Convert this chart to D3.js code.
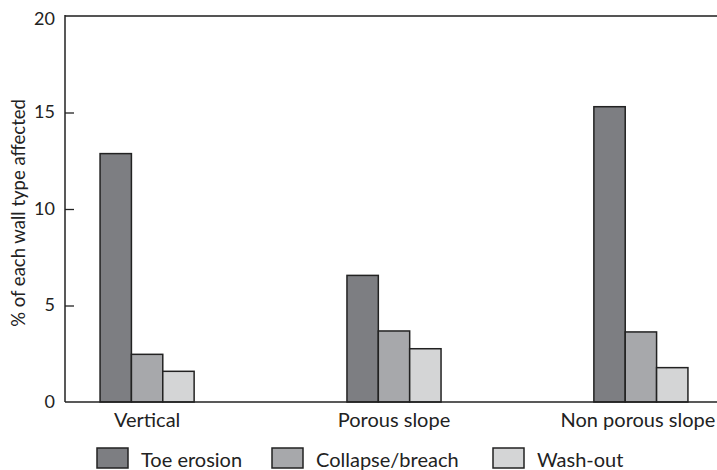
<!DOCTYPE html>
<html><head><meta charset="utf-8">
<script src="https://cdn.jsdelivr.net/npm/d3@7"></script>
<style>body{margin:0;background:#fff}svg{display:block}text{font-family:Lato,"Open Sans",sans-serif;fill:#222}</style>
</head><body><svg id="c" width="717" height="470"></svg>
<script>
const categories = ["Vertical", "Porous slope", "Non porous slope"];
const seriesNames = ["Toe erosion", "Collapse/breach", "Wash-out"];
const toeErosion = [12.87, 6.56, 15.3];
const collapseBreach = [2.47, 3.68, 3.63];
const washOut = [1.59, 2.76, 1.78];
const yTicks = [0, 5, 10, 15, 20];
const colors = ["#7d7e82", "#a7a8ab", "#d4d5d6"];
const series = [toeErosion, collapseBreach, washOut];

const svg = d3.select("#c");
const mL = 65, mR = 717, mT = 16, mB = 402;
const y = d3.scaleLinear().domain([0, 20]).range([mB, mT]);
const x = d3.scaleBand().domain(categories).range([mL, 723]).paddingInner(0.619).paddingOuter(0.142);
const xs = d3.scaleBand().domain(seriesNames).range([0, x.bandwidth()]);

// frame
svg.append("line").attr("x1", mL).attr("x2", mR).attr("y1", mT).attr("y2", mT)
  .attr("stroke", "#555").attr("stroke-width", 2);

// y axis
const yAxis = svg.append("g").attr("transform", `translate(${mL},0)`)
  .call(d3.axisRight(y).tickValues(yTicks).tickSize(9).tickFormat(""));
yAxis.select(".domain").remove();
yAxis.selectAll(".tick line").attr("stroke", "#222").attr("stroke-width", 1.3)
  .filter(d => d === 0 || d === 20).remove();
svg.append("line").attr("x1", mL).attr("x2", mL).attr("y1", mT - 1).attr("y2", mB)
  .attr("stroke", "#222").attr("stroke-width", 1.5);
svg.selectAll(".ylab").data(yTicks).join("text").attr("class", "ylab")
  .attr("x", 55).attr("y", d => y(d) + (d === 20 ? 4 : 1)).attr("text-anchor", "end")
  .attr("dominant-baseline", "middle").style("font-size", "18px").text(d => d);

// bars
categories.forEach((c, i) => {
  series.forEach((s, j) => {
    svg.append("rect")
      .attr("x", x(c) + xs(seriesNames[j]))
      .attr("y", y(s[i]))
      .attr("width", xs.bandwidth())
      .attr("height", y(0) - y(s[i]))
      .attr("fill", colors[j]).attr("stroke", "#222").attr("stroke-width", 1.5);
  });
});

// baseline
svg.append("line").attr("x1", mL).attr("x2", mR).attr("y1", mB).attr("y2", mB)
  .attr("stroke", "#222").attr("stroke-width", 1.5);

// x labels
const xAxis = svg.append("g").attr("transform", `translate(0,${mB})`)
  .call(d3.axisBottom(x).tickSize(0).tickPadding(0));
xAxis.select(".domain").remove();
xAxis.selectAll("text").attr("y", 25).attr("dy", 0).attr("x", (d, i) => i === 2 ? -3 : 0)
  .style("font-size", "20px")
  .style("font-family", "Lato,'Open Sans',sans-serif").attr("fill", "#222");

// y title
svg.append("text").attr("transform", "translate(25,213) rotate(-90)")
  .attr("text-anchor", "middle").style("font-size", "18.5px").text("% of each wall type affected");

// legend
const legX = [97, 272, 493];
const lg = svg.selectAll(".leg").data(seriesNames).join("g").attr("class", "leg")
  .attr("transform", (d, i) => `translate(${legX[i]},448)`);
lg.append("rect").attr("width", 31).attr("height", 20)
  .attr("fill", (d, i) => colors[i]).attr("stroke", "#222").attr("stroke-width", 1.5);
lg.append("text").attr("x", 44).attr("y", 19).style("font-size", "20px").text(d => d);
</script></body></html>
